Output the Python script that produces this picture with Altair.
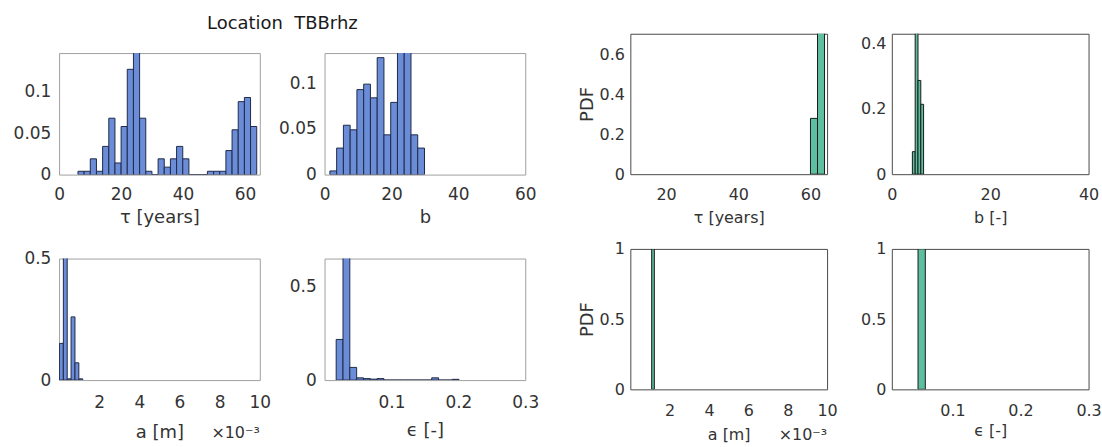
import altair as alt
import numpy as np
import pandas as pd

FONT = "DejaVu Sans"
TEXT = "#333333"
BLUE_FILL = "#6b8cd6"
BLUE_EDGE = "#1f2a48"
GREEN_FILL = "#5ebea0"
GREEN_EDGE = "#1a1a1a"

main_title = "Location\u00a0\u00a0TBBrhz"

# ---------------- left block (blue histograms) ----------------
tau_L_start, tau_L_width = 6.1, 1.99
tau_L_pdf = [0.004, 0.004, 0.019, 0.004, 0.034, 0.068, 0.014, 0.058, 0.127, 0.15,
             0.068, 0.004, 0.0, 0.019, 0.009, 0.019, 0.034, 0.019, 0.0, 0.0,
             0.0, 0.004, 0.004, 0.004, 0.029, 0.054, 0.088, 0.093, 0.058]

b_L_start, b_L_width = 1.6, 2.02
b_L_pdf = [0.004, 0.029, 0.054, 0.049, 0.093, 0.099, 0.084, 0.128, 0.0435, 0.079,
           0.14, 0.14, 0.0435, 0.029]

a_L_start, a_L_width = 0.00002, 0.000193
a_L_pdf = [0.151, 0.52, 0.005, 0.26, 0.071, 0.005]

eps_L_start, eps_L_width = 0.0174, 0.0102
eps_L_pdf = [0.218, 0.66, 0.068, 0.012, 0.008, 0.005, 0.008, 0.0, 0.0, 0.0,
             0.0, 0.0, 0.0, 0.0, 0.012, 0.0, 0.0, 0.004]

# ---------------- right block (green histograms) ----------------
tau_R_start, tau_R_width = 60.0, 1.95
tau_R_pdf = [0.28, 0.72]

b_R_start, b_R_width = 4.18, 0.57
b_R_pdf = [0.069, 0.45, 0.287, 0.214]

a_R_start, a_R_width = 0.001085, 0.000135
a_R_pdf = [1.0]

eps_R_start, eps_R_width = 0.0495, 0.0107
eps_R_pdf = [1.0]


def hist_df(start, width, pdf):
    edges = start + width * np.arange(len(pdf) + 1)
    return pd.DataFrame({"lo": edges[:-1], "hi": edges[1:], "pdf": pdf,
                         "base": np.zeros(len(pdf))})


def panel(df, side, w, h, xdom, xticks, ydom, yticks, xtitle, xlabel_pad, xtitle_y,
          milli=False, ytitle=None, milli_dy=-4):
    left = side == "L"
    lab_fs = 17 if left else 16
    tit_fs = 18 if left else 16
    ext = 50 if left else 32
    x_axis = dict(values=xticks, title=xtitle, grid=False, domain=False, ticks=False,
                  tickSize=0, labelPadding=xlabel_pad, labelFontSize=lab_fs,
                  labelFont=FONT, labelColor=TEXT, labelFlush=False, labelOverlap=False,
                  titleFontSize=tit_fs, titleFont=FONT, titleColor=TEXT,
                  titleFontWeight="normal", titleY=xtitle_y, titleBaseline="alphabetic")
    if milli:
        x_axis["labelExpr"] = "format(datum.value * 1000, 'd')"
    else:
        x_axis["labelExpr"] = "'' + datum.value"
    y_axis = dict(values=yticks, labelExpr="'' + datum.value", grid=False, domain=False,
                  ticks=False, tickSize=0, labelPadding=8.3 if left else 6,
                  labelFontSize=lab_fs, labelFont=FONT, labelColor=TEXT, labelFlush=False,
                  labelOverlap=False, minExtent=ext, maxExtent=ext)
    if ytitle:
        y_axis.update(title=ytitle, titleFontSize=18, titleFont=FONT, titleColor=TEXT,
                      titleFontWeight="normal", titleX=-33.8, titleY=h / 2,
                      titleBaseline="bottom", titleAlign="center")
    else:
        y_axis["title"] = None
    ch = alt.Chart(df).mark_rect(
        fill=BLUE_FILL if left else GREEN_FILL,
        stroke=BLUE_EDGE if left else GREEN_EDGE,
        strokeWidth=1, clip=True,
    ).encode(
        x=alt.X("lo:Q", scale=alt.Scale(domain=xdom, nice=False, zero=False), axis=alt.Axis(**x_axis)),
        x2="hi:Q",
        y=alt.Y("pdf:Q", scale=alt.Scale(domain=ydom, nice=False, zero=True), axis=alt.Axis(**y_axis)),
        y2="base:Q",
    )
    props = dict(width=w, height=h,
                 view=alt.ViewBackground(stroke="#a0a0a0" if left else "#4a4a4a",
                                         strokeWidth=1, fill="white"))
    if milli:
        props["title"] = alt.TitleParams("×10⁻³", orient="bottom", anchor="end", frame="group",
                                         fontSize=16, font=FONT, color=TEXT, fontWeight="normal",
                                         baseline="alphabetic", offset=0, dy=milli_dy)
    return ch.properties(**props)


WL, HL = 201.5, 122
WR, HR = 197.5, 141

p1 = panel(hist_df(tau_L_start, tau_L_width, tau_L_pdf), "L", WL, HL, [0, 64.8], [0, 20, 40, 60],
           [0, 0.1466], [0, 0.05, 0.1], "τ [years]", 12, 47.7)
p2 = panel(hist_df(b_L_start, b_L_width, b_L_pdf), "L", WL, HL, [0, 60], [0, 20, 40, 60],
           [0, 0.133], [0, 0.05, 0.1], "b", 12, 47.7)
p3 = panel(hist_df(a_L_start, a_L_width, a_L_pdf), "L", WL, HL, [0, 0.01],
           [0.002, 0.004, 0.006, 0.008, 0.01], [0, 0.5], [0, 0.5], "a [m]", 14.5, 58, milli=True)
p4 = panel(hist_df(eps_L_start, eps_L_width, eps_L_pdf), "L", WL, HL, [0, 0.3], [0.1, 0.2, 0.3],
           [0, 0.652], [0, 0.5], "ϵ [-]", 14.5, 56)

p5 = panel(hist_df(tau_R_start, tau_R_width, tau_R_pdf), "R", WR, HR, [10.1, 64.6], [20, 40, 60],
           [0, 0.705], [0, 0.2, 0.4, 0.6], "τ [years]", 12.2, 48.4, ytitle="PDF")
p6 = panel(hist_df(b_R_start, b_R_width, b_R_pdf), "R", WR, HR, [0, 40], [0, 20, 40],
           [0, 0.43], [0, 0.2, 0.4], "b [-]", 12.2, 48.4)
p7 = panel(hist_df(a_R_start, a_R_width, a_R_pdf), "R", WR, HR, [0, 0.01],
           [0.002, 0.004, 0.006, 0.008, 0.01], [0, 1], [0, 0.5, 1], "a [m]", 12.9, 50,
           milli=True, ytitle="PDF", milli_dy=-2)
p8 = panel(hist_df(eps_R_start, eps_R_width, eps_R_pdf), "R", WR, HR, [0.011, 0.3], [0.1, 0.2, 0.3],
           [0, 1], [0, 0.5, 1], "ϵ [-]", 12.9, 46)

left_grid = alt.concat(p1, p2, p3, p4, columns=2, spacing={"row": 84.3, "column": 64.5},
                       bounds="flush")
right_grid = alt.concat(p5, p6, p7, p8, columns=2, spacing={"row": 75, "column": 64.5},
                        bounds="flush")

title_chart = alt.Chart(pd.DataFrame({"t": [main_title]})).mark_text(
    font=FONT, fontSize=18, color="#1a1a1a", baseline="middle", align="center"
).encode(text="t:N").properties(
    width=448.4, height=37.6, view=alt.ViewBackground(strokeOpacity=0, fillOpacity=0))

spacer = alt.Chart(pd.DataFrame({"t": [""]})).mark_text(baseline="middle").encode(
    text="t:N").properties(
    width=1, height=20, view=alt.ViewBackground(strokeOpacity=0, fillOpacity=0))

left_block = alt.vconcat(title_chart, left_grid, spacing=10.4, bounds="flush")
right_block = alt.vconcat(spacer, right_grid, spacing=9, bounds="flush")

chart = alt.hconcat(left_block, right_block, spacing=37.5).properties(
    padding={"left": 8.3, "top": 4, "right": 0, "bottom": 0},
    background="white",
).configure(font=FONT)

chart.save("out.html", embed_options={"renderer": "svg", "actions": False})
